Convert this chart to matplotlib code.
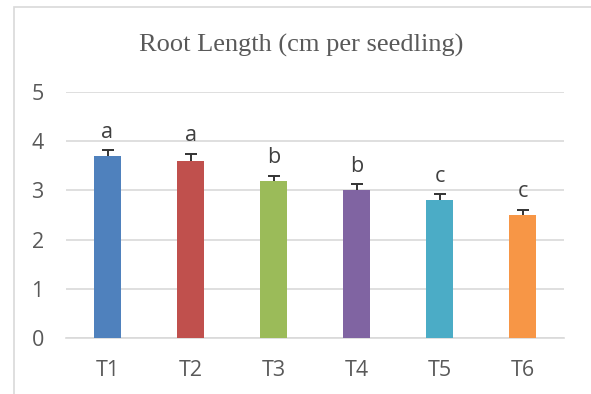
import matplotlib
matplotlib.use("Agg")
import matplotlib.pyplot as plt
from matplotlib.patches import Rectangle

# data
treatments = ["T1", "T2", "T3", "T4", "T5", "T6"]
root_length = [3.7, 3.6, 3.2, 3.0, 2.8, 2.5]
errors = [0.12, 0.14, 0.10, 0.12, 0.12, 0.11]
letters = ["a", "a", "b", "b", "c", "c"]
bar_colors = ["#4F81BD", "#C0504D", "#9BBB59", "#8064A2", "#4BACC6", "#F79646"]
y_ticks = [0, 1, 2, 3, 4, 5]

W, H = 591, 394
fig = plt.figure(figsize=(W / 100, H / 100), dpi=100)
fig.patch.set_facecolor("white")

# chart border (only left and top visible in the crop)
fig.patches.append(Rectangle((13.5 / W, -0.1), 1.2, 1.1 - 7.5 / H,
                             transform=fig.transFigure, fill=False,
                             edgecolor="#D9D9D9", linewidth=1.2))

ax = fig.add_axes([66 / W, 56 / H, 498 / W, 246 / H])
x = range(len(treatments))
ax.bar(x, root_length, width=0.325, color=bar_colors, zorder=3)
# symmetric error bars drawn behind the bars, so only the upper half shows
ax.errorbar(x, root_length, yerr=errors, fmt="none",
            ecolor="#333333", elinewidth=1.4, capsize=4.2, capthick=1.4, zorder=2)

for i, (v, e, l) in enumerate(zip(root_length, errors, letters)):
    ax.annotate(l, (i, v + e), xytext=(0, 12.5), textcoords="offset pixels",
                ha="center", va="baseline", fontsize=15.5, color="#404040",
                family="Open Sans")

ax.set_xlim(-0.5, len(treatments) - 0.5)
ax.set_ylim(0, 5)
ax.set_yticks(y_ticks)
ax.set_xticks(list(x))
ax.set_xticklabels(treatments)
ax.yaxis.grid(True, color="#D9D9D9", linewidth=1.2, zorder=0)
ax.set_axisbelow(True)
for s in ["top", "right", "left"]:
    ax.spines[s].set_visible(False)
ax.spines["bottom"].set_color("#D9D9D9")
ax.spines["bottom"].set_linewidth(1.2)
ax.tick_params(axis="both", length=0, labelsize=15.5, labelcolor="#595959")
ax.tick_params(axis="y", pad=16)
ax.tick_params(axis="x", pad=16)
for lab in ax.get_xticklabels() + ax.get_yticklabels():
    lab.set_family("Open Sans")

fig.text(301 / W, (H - 52) / H, "Root Length (cm per seedling)",
         ha="center", va="baseline", fontsize=19, color="#595959",
         family="Liberation Serif")

fig.savefig("out.png", dpi=100)
